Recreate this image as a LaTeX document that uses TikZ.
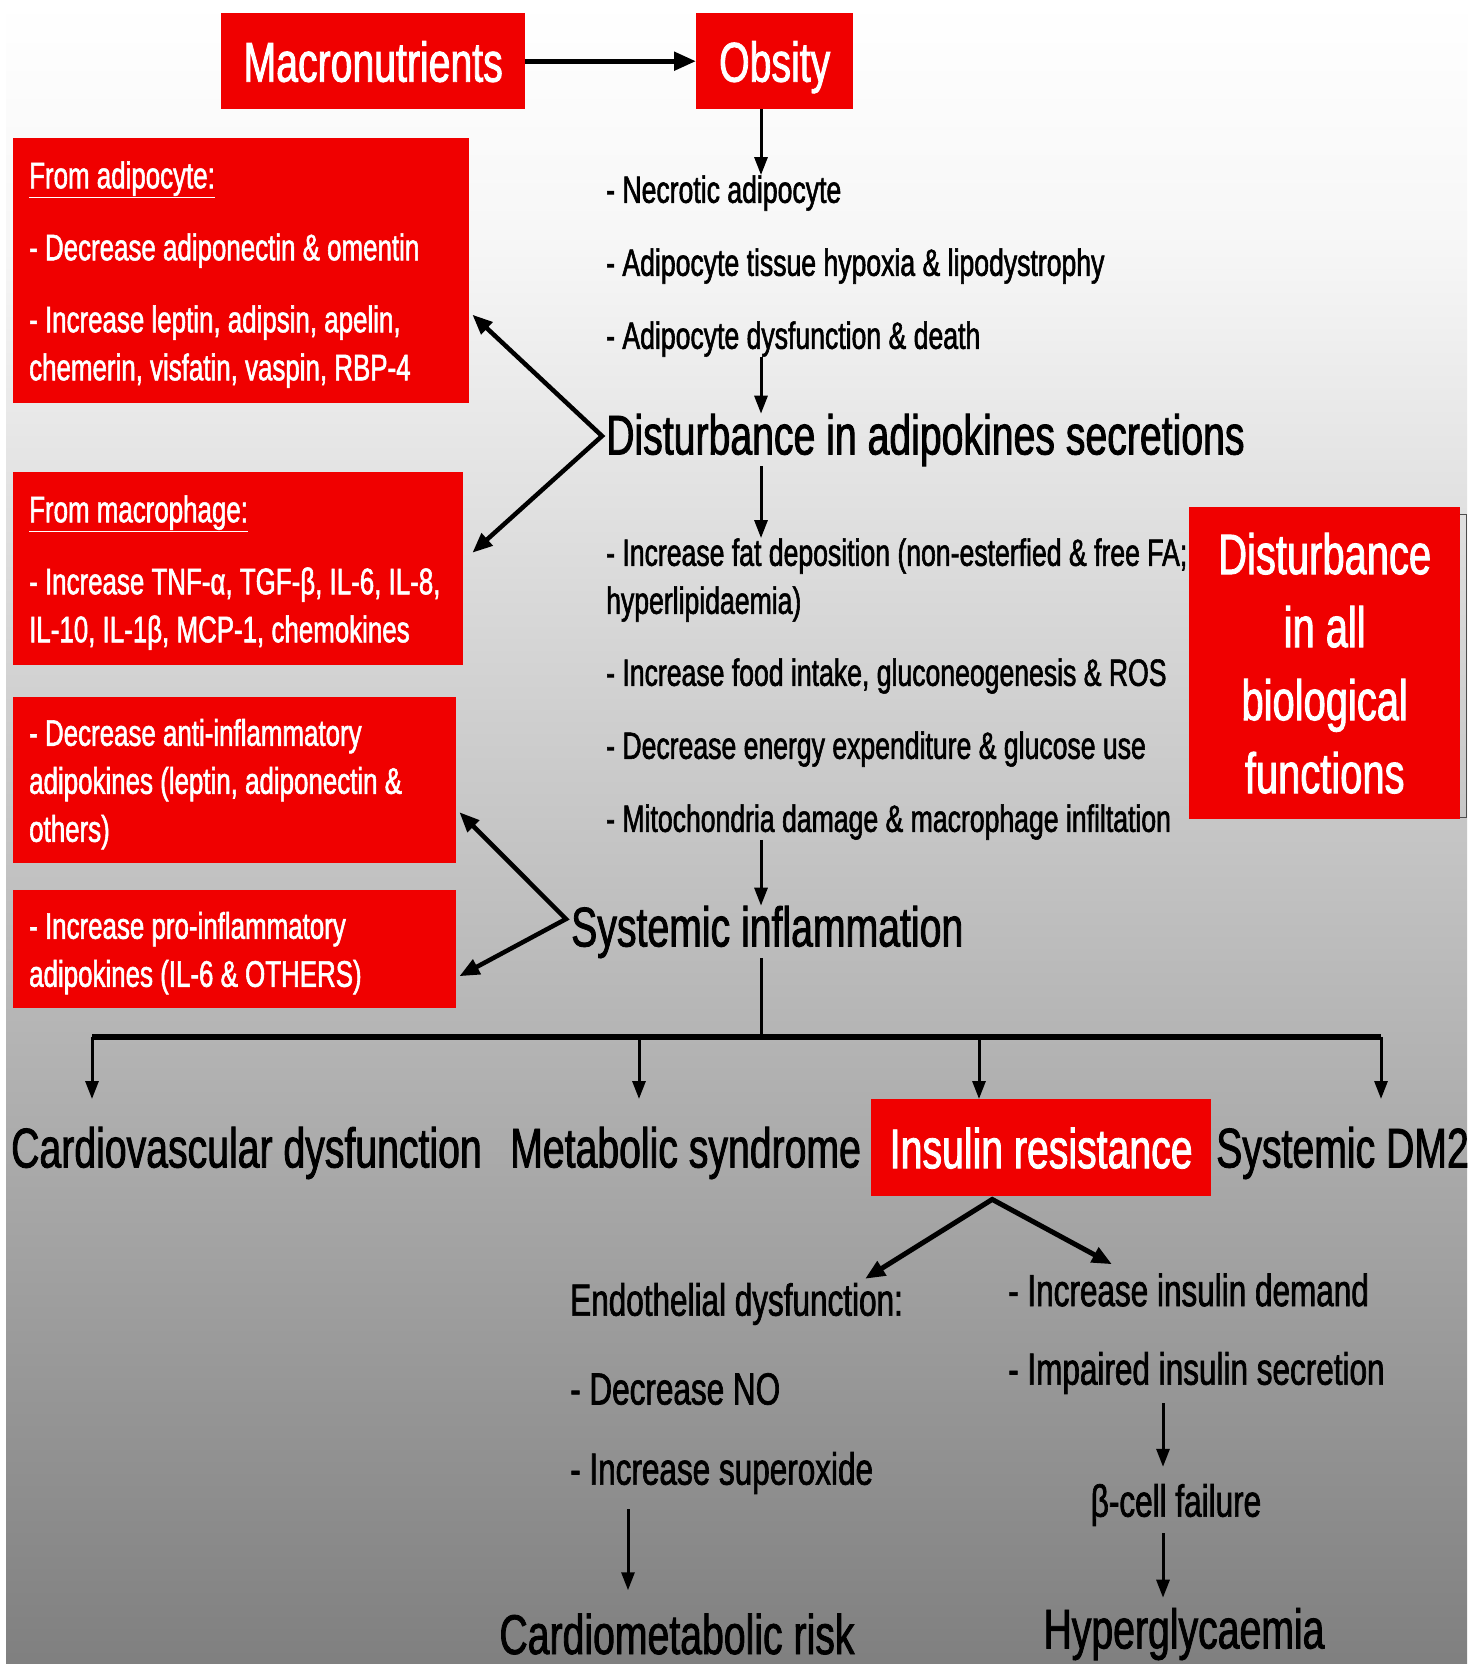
\documentclass[tikz,border=0pt]{standalone}
\usepackage{fontspec}
\setmainfont{Liberation Sans}[FakeStretch=0.7,FakeBold=1.5]
\usetikzlibrary{arrows.meta,calc}
\definecolor{boxred}{RGB}{240,0,0}
\definecolor{bgmid}{gray}{0.965}
\definecolor{bgbot}{gray}{0.5}
\begin{document}
\begin{tikzpicture}[x=1pt,y=-1pt,
  redbox/.style={fill=boxred,draw=none,inner sep=0pt,anchor=north west,text=white},
  boxline/.style={text height=41pt,text depth=0pt},
  bigf/.style={font=\fontsize{56}{73}\selectfont},
  medf/.style={font=\fontsize{45}{54}\selectfont},
  listf/.style={font=\fontsize{38}{48}\selectfont},
  boxf/.style={font=\fontsize{37}{48}\selectfont},
  txt/.style={inner sep=0pt,anchor=west,align=left,yshift=-4pt},
  ctxt/.style={inner sep=0pt,anchor=center,align=center,yshift=-4pt},
  arr/.style={line width=3pt,-{Triangle[length=18pt,width=13pt]}},
  fatarr/.style={line width=5pt,-{Triangle[length=22pt,width=18pt]}},
  chev/.style={line width=4.5pt,line join=miter,{Triangle[length=20pt,width=16pt]}-{Triangle[length=20pt,width=16pt]}},
]
% background
\fill[white] (0,0) rectangle (1478,1664);
\shade[top color=white,bottom color=bgmid] (6,0) rectangle (1467,251);
\shade[top color=bgmid,bottom color=bgbot] (6,250) rectangle (1467,1664);
\useasboundingbox (0,0) rectangle (1478,1664);

% red boxes
\node[redbox,bigf,boxline,minimum width=304pt,minimum height=96pt] (macro) at (221,13) {Macronutrients};
\node[redbox,bigf,boxline,minimum width=157pt,minimum height=96pt] (obs) at (696,13) {Obsity};
\node[redbox,minimum width=456pt,minimum height=265pt] (adip) at (13,138) {};
\node[redbox,minimum width=450pt,minimum height=193pt] (mac) at (13,472) {};
\node[redbox,minimum width=443pt,minimum height=166pt] (anti) at (13,697) {};
\node[redbox,minimum width=443pt,minimum height=118pt] (pro) at (13,890) {};
\node[redbox,align=center,font=\fontsize{57}{73}\selectfont,minimum width=271pt,minimum height=312pt] (rbox) at (1189,507) {Disturbance\\in all\\biological\\functions};
\node[redbox,bigf,boxline,minimum width=340pt,minimum height=97pt] (ins) at (871,1099) {Insulin resistance};

% texts in left boxes
\node[txt,boxf,text=white] (adipT) at ($(adip.west)+(16,0)$) {\underline{From adipocyte:}\\[24pt]- Decrease adiponectin \& omentin\\[24pt]- Increase leptin, adipsin, apelin,\\chemerin, visfatin, vaspin, RBP-4};
\node[txt,boxf,text=white] (macT) at ($(mac.west)+(16,0)$) {\underline{From macrophage:}\\[24pt]- Increase TNF-α, TGF-β, IL-6, IL-8,\\IL-10, IL-1β, MCP-1, chemokines};
\node[txt,boxf,text=white] (antiT) at ($(anti.west)+(16,0)$) {- Decrease anti-inflammatory\\adipokines (leptin, adiponectin \&\\others)};
\node[txt,boxf,text=white] (proT) at ($(pro.west)+(16,0)$) {- Increase pro-inflammatory\\adipokines (IL-6 \& OTHERS)};

% central column texts
\node[txt,listf] (nec) at (606,189) {- Necrotic adipocyte};
\node[txt,listf] (hyp) at (606,262) {- Adipocyte tissue hypoxia \& lipodystrophy};
\node[txt,listf] (dysf) at (606,335) {- Adipocyte dysfunction \& death};
\node[txt,bigf] (dist) at (606,436) {Disturbance in adipokines secretions};
\node[txt,listf] (fat) at (606,576) {- Increase fat deposition (non-esterfied \& free FA;\\hyperlipidaemia)};
\node[txt,listf] (food) at (606,672) {- Increase food intake, gluconeogenesis \& ROS};
\node[txt,listf] (energy) at (606,745) {- Decrease energy expenditure \& glucose use};
\node[txt,listf] (mito) at (606,818) {- Mitochondria damage \& macrophage infiltation};
\node[txt,bigf] (sys) at (571,928) {Systemic inflammation};

% bottom row
\node[txt,bigf] (cv) at (11,1149) {Cardiovascular dysfunction};
\node[txt,bigf] (met) at (510,1149) {Metabolic syndrome};
\node[txt,bigf] (dm2) at (1216,1149) {Systemic DM2};

% lower branches
\node[txt,medf] (endo) at (570,1300) {Endothelial dysfunction:};
\node[txt,medf] (decno) at (570,1385) {- Decrease NO};
\node[txt,medf] (incsup) at (570,1469) {- Increase superoxide};
\node[ctxt,bigf] (cmr) at (677,1630) {Cardiometabolic risk};
\node[txt,medf] (incdem) at (1008,1286) {- Increase insulin demand};
\node[txt,medf] (imp) at (1008,1369) {- Impaired insulin secretion};
\node[ctxt,medf] (beta) at (1176,1501) {β-cell failure};
\node[ctxt,bigf] (hyper) at (1184,1630) {Hyperglycaemia};

% coordinates
\coordinate (spine) at (761,0);
\coordinate (bar) at (0,1037);
\coordinate (b1) at (92,1037);
\coordinate (b2) at (639,1037);
\coordinate (b3) at (979,1037);
\coordinate (b4) at (1381,1037);

% connectors
\draw[fatarr] (macro.east) -- (obs.west);
\draw[arr] (obs.south -| spine) -- (nec.north -| spine);
\draw[arr] (dysf.south -| spine) -- (dist.north -| spine);
\draw[arr] (dist.south -| spine) -- (fat.north -| spine);
\draw[arr] (mito.south -| spine) -- (sys.north -| spine);
\draw[line width=3pt] (sys.south -| spine) -- (bar -| spine);
\draw[line width=6pt] (b1) -- (b4);
\foreach \b in {b1,b2,b3,b4} \draw[arr] (\b) -- (\b |- ins.north);

\coordinate (tip1) at ($(dist.west)+(-4,-4)$);
\draw[chev] ($(adip.east)+(3,44)$) -- (tip1) -- ($(mac.east)+(9,-16)$);
\coordinate (tip2) at ($(sys.west)+(-5,-13)$);
\draw[chev] ($(anti.east)+(3,32)$) -- (tip2) -- ($(pro.east)+(3,27)$);

\coordinate (insap) at ($(ins.south)+(-49,3)$);
\draw[chev,line width=5pt] ($(endo.north west)+(295,-4)$) -- (insap) -- ($(incdem.north west)+(104,-9)$);

\draw[arr] ($(incsup.south west)+(58,15)$) -- ($(cmr.north)+(-49,-23)$);
\draw[arr] ($(imp.south west)+(155,9)$) -- ($(beta.north)+(-13,-17)$);
\draw[arr] ($(beta.south)+(-13,7)$) -- ($(hyper.north)+(-21,-10)$);

\draw[line width=1pt,black!70] ($(rbox.north east)+(0,7)$) -- ++(6,0) -- ($(rbox.south east)+(6,-2)$) -- ++(-6,0);
\end{tikzpicture}
\end{document}
